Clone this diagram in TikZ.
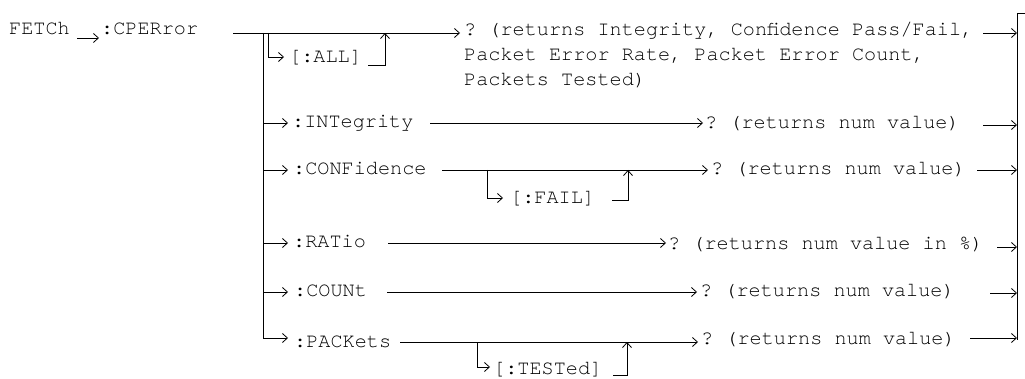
\documentclass[tikz,border=0pt]{standalone}
\usepackage{fontspec}
\setmonofont{TeX Gyre Cursor}
\usetikzlibrary{arrows.meta}
\tikzset{
  txt/.style={font=\ttfamily\fontsize{20.2}{24.5}\selectfont, inner sep=0pt, anchor=base west},
  ln/.style={line width=0.8pt},
  arr/.style={ln, -{Straight Barb[length=5pt,width=9pt,line width=0.8pt]}}
}
\begin{document}
\begin{tikzpicture}[x=1pt,y=-1pt]
\useasboundingbox (0,0) rectangle (1025,379);
% header
\node[txt] (fetch) at (9,35) {FETCh};
\node[txt] (cper) at (101,35) {:CPERror};
\coordinate (fa) at (77,38);
\coordinate (fb) at (99,38);
\draw[arr] (fa) -- (fb);
% main line
\coordinate (m0) at (233,33);
\coordinate (m1) at (460,33);
\draw[arr] (m0) -- (m1);
\node[txt] (r0a) at (464,36) {? (returns Integrity, Confidence Pass/Fail,};
\node[txt] (r0b) at (464,61) {Packet Error Rate, Packet Error Count,};
\node[txt] (r0c) at (464,86) {Packets Tested)};
\coordinate (e0a) at (983,33);
\coordinate (e0b) at (1017,33);
\draw[arr] (e0a) -- (e0b);
% [:ALL]
\coordinate (alla) at (268,33);
\coordinate (allb) at (284,57);
\node[txt] (all) at (289,63) {[:ALL]};
\coordinate (allc) at (368,65);
\coordinate (alld) at (385,33);
\draw[arr] (alla) |- (allb);
\draw[arr] (allc) -| (alld);
% left trunk
\coordinate (t0) at (263,33);
\coordinate (tP) at (288,338);
\draw[arr] (t0) |- (tP);
% INTegrity
\coordinate (ti) at (263,123);
\draw[arr] (ti) -- (288,123);
\node[txt] (int) at (292,128) {:INTegrity};
\coordinate (ia) at (430,123);
\coordinate (ib) at (703,123);
\draw[arr] (ia) -- (ib);
\node[txt] (intr) at (705,129) {? (returns num value)};
\draw[arr] (983,125) -- (1017,125);
% CONFidence
\coordinate (tc) at (263,170);
\draw[arr] (tc) -- (288,170);
\node[txt] (conf) at (293,175) {:CONFidence};
\coordinate (ca) at (442,170);
\coordinate (cb) at (708,170);
\draw[arr] (ca) -- (cb);
\node[txt] (confr) at (711,175) {? (returns num value)};
\draw[arr] (977,170) -- (1017,170);
% [:FAIL]
\coordinate (fla) at (487,170);
\coordinate (flb) at (503,198);
\node[txt] (fail) at (510,204) {[:FAIL]};
\coordinate (flc) at (612,200);
\coordinate (fld) at (628,170);
\draw[arr] (fla) |- (flb);
\draw[arr] (flc) -| (fld);
% RATio
\coordinate (tr) at (263,243);
\draw[arr] (tr) -- (288,243);
\node[txt] (rat) at (293,248) {:RATio};
\coordinate (ra) at (388,243);
\coordinate (rb) at (666,243);
\draw[arr] (ra) -- (rb);
\node[txt] (ratr) at (668,250) {? (returns num value in \%)};
\draw[arr] (997,247) -- (1017,247);
% COUNt
\coordinate (tn) at (263,292);
\draw[arr] (tn) -- (288,292);
\node[txt] (cnt) at (294,297) {:COUNt};
\coordinate (na) at (387,292);
\coordinate (nb) at (697,292);
\draw[arr] (na) -- (nb);
\node[txt] (cntr) at (700,297) {? (returns num value)};
\draw[arr] (990,293) -- (1017,293);
% PACKets
\node[txt] (pack) at (294,347) {:PACKets};
\coordinate (pa) at (400,342);
\coordinate (pb) at (698,342);
\draw[arr] (pa) -- (pb);
\node[txt] (packr) at (701,344) {? (returns num value)};
\draw[arr] (970,338) -- (1017,338);
% [:TESTed]
\coordinate (ta) at (477,342);
\coordinate (tb) at (490,367);
\node[txt] (test) at (493,374) {[:TESTed]};
\coordinate (tc2) at (613,375);
\coordinate (td) at (627,342);
\draw[arr] (ta) |- (tb);
\draw[arr] (tc2) -| (td);
% right bar
\coordinate (rb0) at (1017,13);
\coordinate (rb1) at (1017,340);
\coordinate (rb2) at (1025,13);
\draw[ln] (rb2) -- (rb0) -- (rb1);
\end{tikzpicture}
\end{document}
